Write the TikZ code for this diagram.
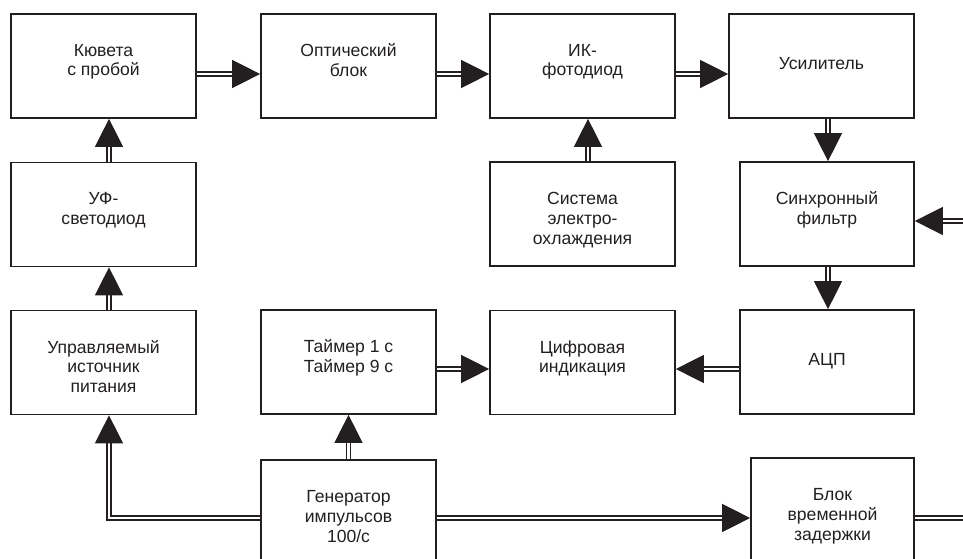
\documentclass[tikz,border=0pt]{standalone}
\usepackage{fontspec}
\setmainfont{Liberation Sans}
\usetikzlibrary{arrows.meta}
\definecolor{ink}{HTML}{231F20}
\newcommand{\topgap}[1]{\rule{0pt}{#1}}
\begin{document}
\begin{tikzpicture}[x=0.25mm,y=-0.25mm,color=ink,
  blk/.style={draw,line width=1.2pt,minimum width=46.25mm,minimum height=26mm,align=center,
    font=\fontsize{12.5}{14}\selectfont,execute at end node={\rule[-8.5pt]{0pt}{0pt}}},
  sig/.style={draw,line width=0.9pt,double=white,double distance=2pt,-{Triangle[length=7mm,width=7mm]}}]
\clip (0,0) rectangle (963,559);
% blocks
\node[blk] (kuv) at (103.5,66) {Кювета\\с пробой};
\node[blk,minimum width=43.75mm] (opt) at (348.5,66) {Оптический\\блок};
\node[blk] (ikf) at (582.5,66) {ИК-\\фотодиод};
\node[blk] (usil) at (821.5,66) {\topgap{13.4pt}Усилитель};
\node[blk] (uf) at (103.5,214.5) {УФ-\\светодиод};
\node[blk] (sys) at (582.5,214) {\topgap{23.4pt}Система\\электро-\\охлаждения};
\node[blk,minimum width=43.5mm] (sync) at (827,214) {Синхронный\\фильтр};
\node[blk] (pit) at (103.5,362.5) {\topgap{23.4pt}Управляемый\\источник\\питания};
\node[blk,minimum width=43.75mm] (tmr) at (348.5,362) {Таймер 1 с\\Таймер 9 с};
\node[blk] (cif) at (582.5,362.5) {Цифровая\\индикация};
\node[blk,minimum width=43.5mm] (adc) at (827,362) {\topgap{13.4pt}АЦП};
\node[blk,minimum width=43.75mm] (gen) at (348.5,512) {\topgap{23.4pt}Генератор\\импульсов\\100/с};
\node[blk,minimum width=40.75mm] (zad) at (832.5,510) {\topgap{23.4pt}Блок\\временной\\задержки};
% rows and columns of the links
\coordinate (r1) at (0,74);
\coordinate (r3) at (0,369);
\coordinate (r4) at (0,518);
\coordinate (c1) at (109,0);
\coordinate (c3) at (588,0);
\coordinate (c4) at (828,0);
\coordinate (in) at (970,221);
\coordinate (out) at (970,518);
% links
\draw[sig] (kuv.east |- r1) -- (opt.west |- r1);
\draw[sig] (opt.east |- r1) -- (ikf.west |- r1);
\draw[sig] (ikf.east |- r1) -- (usil.west |- r1);
\draw[sig] (usil.south -| c4) -- (sync.north -| c4);
\draw[sig] (sync.south -| c4) -- (adc.north -| c4);
\draw[sig] (in) -- (sync.east |- in);
\draw[sig] (sys.north -| c3) -- (ikf.south -| c3);
\draw[sig] (uf.north -| c1) -- (kuv.south -| c1);
\draw[sig] (pit.north -| c1) -- (uf.south -| c1);
\draw[sig] (gen.west |- r4) -| (pit.south -| c1);
\draw[sig] (gen.north) -- (tmr.south);
\draw[sig] (tmr.east |- r3) -- (cif.west |- r3);
\draw[sig] (adc.west |- r3) -- (cif.east |- r3);
\draw[sig] (gen.east |- r4) -- (zad.west |- r4);
\draw[sig,-] (zad.east |- r4) -- (out);
\end{tikzpicture}
\end{document}
